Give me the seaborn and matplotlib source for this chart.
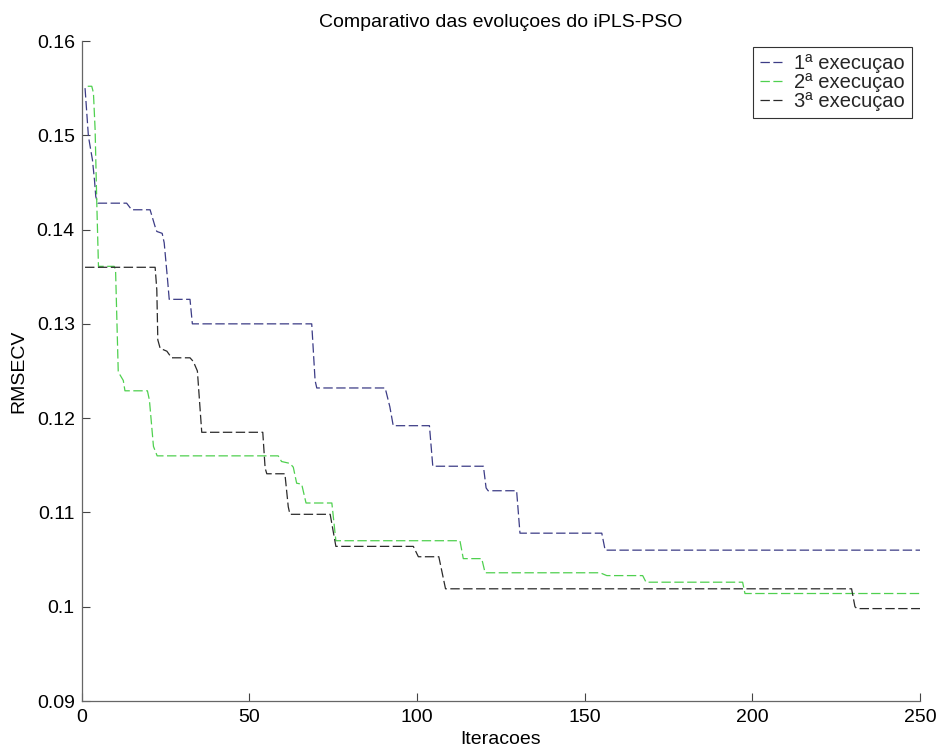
import matplotlib
matplotlib.use("Agg")
import matplotlib.pyplot as plt
import numpy as np
import pandas as pd
import seaborn as sns

# Best RMSECV found by iPLS-PSO at each iteration, stored as breakpoints of the evolution
run1_it = [1.0, 2.0, 3.2, 3.8, 4.2, 4.8, 13.4, 14.9, 20.4, 21.9, 22.4, 24.0, 24.6, 25.6,
           26.1, 32.3, 33.0, 68.6, 69.6, 70.1, 90.5, 91.9, 92.9, 103.7, 104.7, 119.8,
           120.6, 121.2, 129.7, 130.7, 155.1, 156.1, 250.0]
run1_val = [0.1550, 0.1499, 0.1474, 0.1453, 0.1435, 0.1428, 0.1428, 0.1421, 0.1421, 0.1403,
            0.1398, 0.1396, 0.1386, 0.1347, 0.1326, 0.1326, 0.1300, 0.1300, 0.1240, 0.1232,
            0.1232, 0.1212, 0.1192, 0.1192, 0.1149, 0.1149, 0.1126, 0.1123, 0.1123, 0.1078,
            0.1078, 0.1060, 0.1060]

run2_it = [1.8, 3.0, 3.5, 4.0, 4.5, 5.0, 9.7, 10.1, 10.9, 12.4, 12.9, 19.6, 20.2, 21.4,
           22.5, 58.6, 59.6, 62.1, 63.1, 64.1, 65.6, 66.9, 74.6, 75.8, 112.8, 113.8, 119.3,
           120.3, 154.6, 156.6, 167.3, 168.3, 197.1, 197.8, 250.0]
run2_val = [0.1552, 0.1552, 0.1545, 0.1506, 0.1428, 0.1361, 0.1361, 0.1357, 0.1249, 0.1240,
            0.1229, 0.1229, 0.1219, 0.1170, 0.1160, 0.1160, 0.1154, 0.1152, 0.1148, 0.1131,
            0.1130, 0.1110, 0.1110, 0.1070, 0.1070, 0.1051, 0.1051, 0.1036, 0.1036, 0.1033,
            0.1033, 0.1026, 0.1026, 0.1014, 0.1014]

run3_it = [1.0, 21.9, 22.4, 22.7, 23.4, 25.4, 26.8, 32.3, 33.3, 34.5, 35.8, 54.0, 54.7,
           55.2, 60.6, 61.6, 62.1, 74.1, 75.8, 98.9, 100.4, 106.5, 108.5, 229.6, 230.6,
           231.2, 250.0]
run3_val = [0.1360, 0.1360, 0.1336, 0.1283, 0.1274, 0.1271, 0.1264, 0.1264, 0.1260, 0.1250,
            0.1185, 0.1185, 0.1147, 0.1141, 0.1141, 0.1106, 0.1098, 0.1098, 0.1064, 0.1064,
            0.1053, 0.1053, 0.1019, 0.1019, 0.1000, 0.0998, 0.0998]

run_labels = ["1ª execuçao", "2ª execuçao", "3ª execuçao"]
x_ticks = [0, 50, 100, 150, 200, 250]
y_ticks = [0.09, 0.10, 0.11, 0.12, 0.13, 0.14, 0.15, 0.16]
y_tick_labels = ["0.09", "0.1", "0.11", "0.12", "0.13", "0.14", "0.15", "0.16"]

df = pd.concat([
    pd.DataFrame({"it": run1_it, "rmsecv": run1_val, "run": run_labels[0]}),
    pd.DataFrame({"it": run2_it, "rmsecv": run2_val, "run": run_labels[1]}),
    pd.DataFrame({"it": run3_it, "rmsecv": run3_val, "run": run_labels[2]}),
], ignore_index=True)

sns.set_theme(style="white")
plt.rcParams["font.family"] = ["Liberation Sans", "DejaVu Sans"]

W, H = 938, 751
fig = plt.figure(figsize=(W / 100, H / 100), dpi=100)
left, right, top, bottom = 81.7, 920.0, 41.0, 701.0
ax = fig.add_axes([left / W, 1 - bottom / H, (right - left) / W, (bottom - top) / H])

palette = {run_labels[0]: "#3c3c86", run_labels[1]: "#4fd04f", run_labels[2]: "#2a2a2a"}
sns.lineplot(data=df, x="it", y="rmsecv", hue="run", style="run", palette=palette,
             dashes=[(7.5, 2.8)] * 3, linewidth=0.9, estimator=None, sort=False, ax=ax)

ax.set_xlim(0, 250)
ax.set_ylim(0.09, 0.16)
ax.set_xticks(x_ticks)
ax.set_xticklabels([str(t) for t in x_ticks])
ax.set_yticks(y_ticks)
ax.set_yticklabels(y_tick_labels)

fs = 14
ax.tick_params(axis="both", which="major", bottom=True, left=True, top=False, right=False,
               direction="in", length=6, width=0.8, color="#444444", labelsize=fs,
               labelcolor="black")
ax.tick_params(axis="x", pad=6)
ax.tick_params(axis="y", pad=5)
for side in ["top", "right"]:
    ax.spines[side].set_visible(False)
for side in ["left", "bottom"]:
    ax.spines[side].set_color("#666666")
    ax.spines[side].set_linewidth(0.9)

ax.set_xlabel("Iteracoes", fontsize=fs, color="black", labelpad=3)
ax.set_ylabel("RMSECV", fontsize=fs, color="black", labelpad=7)
ax.set_title("Comparativo das evoluçoes do iPLS-PSO", fontsize=fs, color="black", pad=10)

leg = ax.legend(loc="upper right", fontsize=14.5, frameon=True, fancybox=False,
                edgecolor="black", handlelength=1.1, handletextpad=0.6,
                borderpad=0.35, labelspacing=0.0, borderaxespad=0.0,
                bbox_to_anchor=(0.990, 0.9914))
leg.get_frame().set_linewidth(0.8)

fig.savefig("out.png", dpi=100, facecolor="white")
